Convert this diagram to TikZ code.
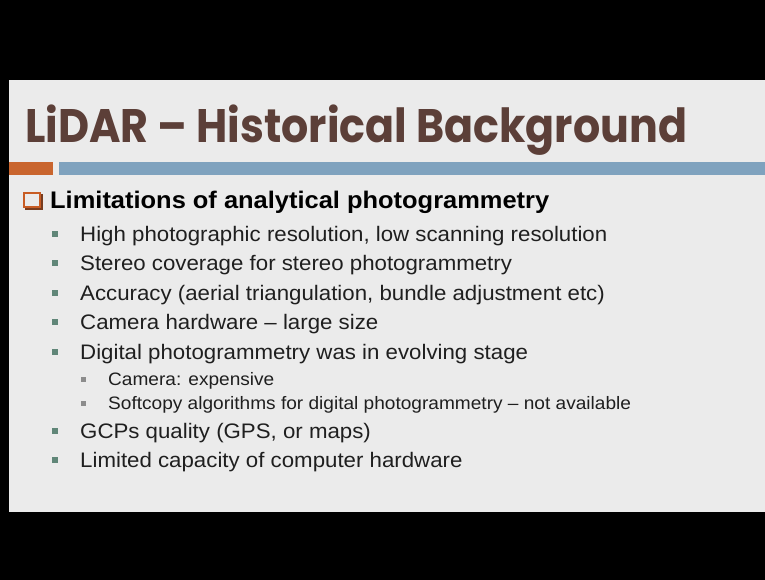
\documentclass[tikz,border=0pt]{standalone}
\usepackage{fontspec}
\setmainfont{Liberation Sans}[FakeStretch=1.06]
\newfontfamily\titlefont{Poppins}[FakeStretch=0.91]
\usetikzlibrary{positioning}

\definecolor{slidegray}{RGB}{235,235,235}
\definecolor{titlebrown}{RGB}{92,63,56}
\definecolor{barorange}{RGB}{201,101,46}
\definecolor{barblue}{RGB}{127,162,190}
\definecolor{boxorange}{RGB}{200,92,36}
\definecolor{boxshadow}{RGB}{120,60,30}
\definecolor{markgreen}{RGB}{96,134,120}
\definecolor{markgray}{RGB}{140,140,140}

\begin{document}
\begin{tikzpicture}[
    x = 1pt, y = -1pt,
    heading/.style = {
      anchor=base west, inner sep=0pt, text=black,
      font=\fontsize{24}{28}\selectfont\bfseries
    },
    item/.style = {
      anchor=base west, inner sep=0pt, text=black!88,
      font=\fontsize{21}{25}\selectfont
    },
    subitem/.style = {
      anchor=base west, inner sep=0pt, text=black!88,
      font=\fontsize{18}{21}\selectfont
    },
    itemmark/.style = {
      rectangle, fill=markgreen, minimum size=6pt, inner sep=0pt
    },
    submark/.style = {
      rectangle, fill=markgray, minimum size=5pt, inner sep=0pt
    }
  ]
  % frame and slide
  \useasboundingbox (0,0) rectangle (765,580);
  \fill [black] (0,0) rectangle (765,580);
  \fill [slidegray] (9,80) rectangle (765,512);

  % title and rule
  \node (title) [anchor=base west, inner sep=0pt, text=titlebrown,
    font=\fontsize{47}{50}\selectfont\titlefont\bfseries] at (25,143)
    {LiDAR – Historical Background};
  \fill [barorange] (9,162) rectangle (53,175);
  \fill [barblue] (59,162) rectangle (765,175);

  % heading with hollow box
  \fill [boxshadow] (25,194) rectangle (43,210);
  \draw [boxorange, line width=1.6pt, fill=slidegray] (23.8,192.8) rectangle (40.2,207.2);
  \node (head) [heading] at (50,208) {Limitations of analytical photogrammetry};

  % first level
  \node (res)  [item] at (80,241) {High photographic resolution, low scanning resolution};
  \node (ster) [item] at (80,270.5) {Stereo coverage for stereo photogrammetry};
  \node (acc)  [item] at (80,300) {Accuracy (aerial triangulation, bundle adjustment etc)};
  \node (cam)  [item] at (80,329.5) {Camera hardware – large size};
  \node (dig)  [item] at (80,359) {Digital photogrammetry was in evolving stage};
  \node (gcp)  [item] at (80,438) {GCPs quality (GPS, or maps)};
  \node (comp) [item] at (80,467) {Limited capacity of computer hardware};

  \node (m1) [itemmark] at (55,233.5) {};
  \node (m2) [itemmark] at (55,263) {};
  \node (m3) [itemmark] at (55,292.5) {};
  \node (m4) [itemmark] at (55,322) {};
  \node (m5) [itemmark] at (55,351.5) {};
  \node (m6) [itemmark] at (55,430.5) {};
  \node (m7) [itemmark] at (55,459.5) {};

  % second level
  \node (exp)  [subitem] at (108,385) {Camera: expensive};
  \node (soft) [subitem] at (108,409) {Softcopy algorithms for digital photogrammetry – not available};

  \node (s1) [submark] at (83,379) {};
  \node (s2) [submark] at (83,403) {};
\end{tikzpicture}
\end{document}
